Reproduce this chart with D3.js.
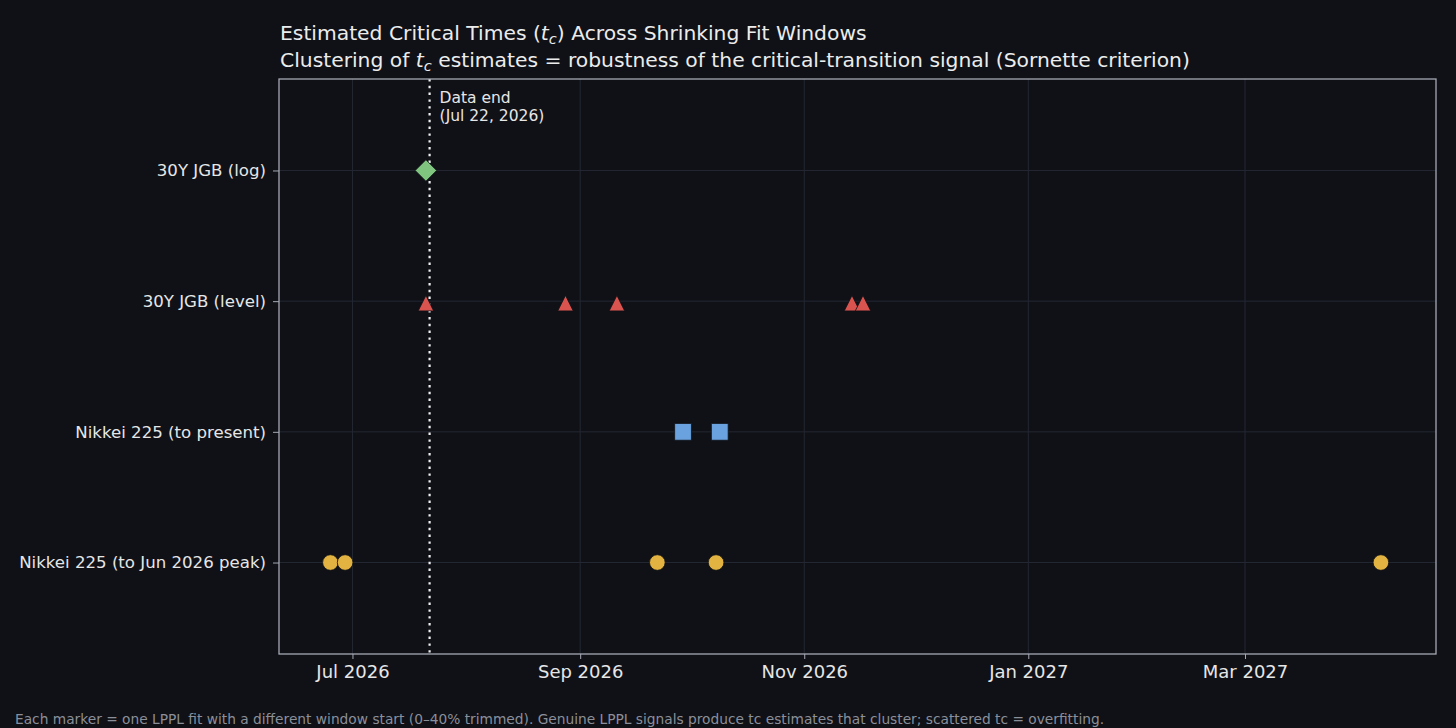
<!DOCTYPE html>
<html>
<head>
<meta charset="utf-8">
<script src="https://cdn.jsdelivr.net/npm/d3@7/dist/d3.min.js"></script>
<style>
  html, body { margin: 0; padding: 0; background: #0f1117; }
  svg { display: block; font-family: "DejaVu Sans", sans-serif; }
</style>
</head>
<body>
<svg width="1456" height="728"></svg>
<script>
// rows, bottom to top
var series = ["Nikkei 225 (to Jun 2026 peak)", "Nikkei 225 (to present)", "30Y JGB (level)", "30Y JGB (log)"];
var colors = ["#e3b341", "#6aa2e0", "#d9534f", "#7fc47f"];
var shapes = ["circle", "square", "triangle", "diamond"];

// tc estimates per series (one per fit window)
var tcPeak    = ["2026-06-25", "2026-06-29", "2026-09-22", "2026-10-08", "2027-04-07"];
var tcPresent = ["2026-09-29", "2026-10-09"];
var tcLevel   = ["2026-07-21", "2026-08-28", "2026-09-11", "2026-11-14", "2026-11-17"];
var tcLog     = ["2026-07-21"];
var tcValues  = [tcPeak, tcPresent, tcLevel, tcLog];

var dataEnd = "2026-07-22";
var xDomain = ["2026-06-11", "2027-04-22"];
var xTicks = ["2026-07-01", "2026-09-01", "2026-11-01", "2027-01-01", "2027-03-01"];

var parse = d3.timeParse("%Y-%m-%d");

var svg = d3.select("svg");
var margin = {top: 79, right: 20, bottom: 74, left: 279};
var width = +svg.attr("width") - margin.left - margin.right;
var height = +svg.attr("height") - margin.top - margin.bottom;

var x = d3.scaleTime().domain(xDomain.map(parse)).range([0, width]);
var y = d3.scaleLinear().domain([-0.7, series.length - 1 + 0.7]).range([height, 0]);

svg.append("rect").attr("width", 1456).attr("height", 728).attr("fill", "#0f1117");

var g = svg.append("g")
  .attr("transform", "translate(" + margin.left + "," + margin.top + ")");

g.append("rect").attr("width", width).attr("height", height).attr("fill", "#0f1117");

// grid
g.append("g").selectAll("line")
  .data(xTicks.map(parse))
  .enter().append("line")
  .attr("x1", function(d) { return x(d); }).attr("x2", function(d) { return x(d); })
  .attr("y1", 0).attr("y2", height)
  .attr("stroke", "#242832").attr("stroke-width", 1);

g.append("g").selectAll("line")
  .data(series)
  .enter().append("line")
  .attr("x1", 0).attr("x2", width)
  .attr("y1", function(d, i) { return y(i); }).attr("y2", function(d, i) { return y(i); })
  .attr("stroke", "#242832").attr("stroke-width", 1);

// data end marker
var xe = x(parse(dataEnd));
g.append("line")
  .attr("x1", xe).attr("x2", xe).attr("y1", 0).attr("y2", height)
  .attr("stroke", "#f0f0f0").attr("stroke-width", 2.2)
  .attr("stroke-dasharray", "2.4,4.4");

var lbl = g.append("text")
  .attr("x", xe + 10).attr("y", 24)
  .attr("fill", "#e6e6e6").style("font-size", "15.5px");
lbl.append("tspan").attr("x", xe + 10).text("Data end");
lbl.append("tspan").attr("x", xe + 10).attr("dy", 18).text("(Jul 22, 2026)");

// markers
var triangle = {
  draw: function(ctx, size) {
    var r = Math.sqrt(size) / 2;
    ctx.moveTo(0, -r);
    ctx.lineTo(r, r);
    ctx.lineTo(-r, r);
    ctx.closePath();
  }
};
var diamond = {
  draw: function(ctx, size) {
    var r = Math.sqrt(size) / 2;
    ctx.moveTo(0, -r);
    ctx.lineTo(r, 0);
    ctx.lineTo(0, r);
    ctx.lineTo(-r, 0);
    ctx.closePath();
  }
};
var symbolTypes = {
  circle: d3.symbolCircle,
  square: d3.symbolSquare,
  triangle: triangle,
  diamond: diamond
};
var symbolSizes = {
  circle: Math.PI * 7.8 * 7.8,
  square: 16.8 * 16.8,
  triangle: 15.5 * 15.5,
  diamond: 21.5 * 21.5
};

tcValues.forEach(function(vals, i) {
  var shape = shapes[i];
  g.append("g").selectAll("path")
    .data(vals)
    .enter().append("path")
    .attr("transform", function(d) {
      var dy = shape === "triangle" ? 2 : 0;
      return "translate(" + x(parse(d)) + "," + (y(i) + dy) + ")";
    })
    .attr("d", d3.symbol().type(symbolTypes[shape]).size(symbolSizes[shape]))
    .attr("fill", colors[i])
    .attr("stroke", "#0f1117").attr("stroke-width", 0.8);
});

// axes
var xAxis = g.append("g")
  .attr("transform", "translate(0," + height + ")")
  .call(d3.axisBottom(x).tickValues(xTicks.map(parse)).tickFormat(d3.timeFormat("%b %Y")).tickSizeInner(5).tickSizeOuter(0).tickPadding(6));
xAxis.select(".domain").remove();
xAxis.selectAll("line").attr("stroke", "#a6a9b3");
xAxis.selectAll("text").attr("fill", "#e6e6e6").style("font-size", "18px").style("font-family", "DejaVu Sans");

var yAxis = g.append("g")
  .call(d3.axisLeft(y).tickValues(d3.range(series.length)).tickFormat(function(d) { return series[d]; }).tickSizeInner(6).tickSizeOuter(0).tickPadding(7));
yAxis.select(".domain").remove();
yAxis.selectAll("line").attr("stroke", "#a6a9b3");
yAxis.selectAll("text").attr("fill", "#e6e6e6").style("font-size", "16.6px").style("font-family", "DejaVu Sans");

// frame
g.append("rect")
  .attr("width", width).attr("height", height)
  .attr("fill", "none").attr("stroke", "#a6a9b3").attr("stroke-width", 1.3);

// titles
var t1 = svg.append("text").attr("x", 280).attr("y", 40)
  .attr("fill", "#ececec").style("font-size", "20.3px");
t1.append("tspan").text("Estimated Critical Times (");
t1.append("tspan").style("font-style", "italic").text("t");
t1.append("tspan").attr("dy", 4).style("font-size", "14.5px").style("font-style", "italic").text("c");
t1.append("tspan").attr("dy", -4).text(") Across Shrinking Fit Windows");

var t2 = svg.append("text").attr("x", 280).attr("y", 67)
  .attr("fill", "#ececec").style("font-size", "20.3px");
t2.append("tspan").text("Clustering of ");
t2.append("tspan").style("font-style", "italic").text("t");
t2.append("tspan").attr("dy", 4).style("font-size", "14.5px").style("font-style", "italic").text("c");
t2.append("tspan").attr("dy", -4).text(" estimates = robustness of the critical-transition signal (Sornette criterion)");

// footnote
svg.append("text").attr("x", 15).attr("y", 724)
  .attr("fill", "#8b8f99").style("font-size", "13.75px")
  .text("Each marker = one LPPL fit with a different window start (0\u201340% trimmed). Genuine LPPL signals produce tc estimates that cluster; scattered tc = overfitting.");
</script>
</body>
</html>
